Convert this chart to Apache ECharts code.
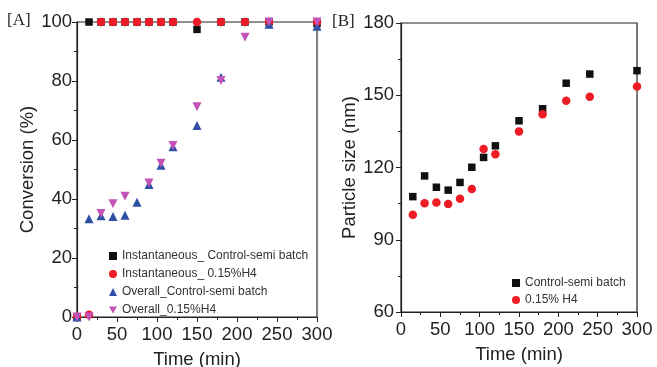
<!DOCTYPE html>
<html>
<head>
<meta charset="utf-8">
<script src="https://cdn.jsdelivr.net/npm/echarts@6/dist/echarts.min.js"></script>
<style>
  html, body { margin: 0; padding: 0; background: #fff; }
  #chart { width: 657px; height: 367px; }
</style>
</head>
<body>
<div id="chart"></div>
<script>
// Panel A: conversion vs time
const timeA = [0, 15, 30, 45, 60, 75, 90, 105, 120, 150, 180, 210, 240, 300];
const instControl = [0, 100, 100, 100, 100, 100, 100, 100, 100, 97.5, 100, 100, 100, 99.5];
const instH4Time = [0, 15, 30, 45, 60, 75, 90, 105, 120, 150, 180, 210, 240, 300];
const instH4 = [0, 0.8, 100, 100, 100, 100, 100, 100, 100, 100, 100, 100, 100, 100];
const overallControlTime = [0, 15, 30, 45, 60, 75, 90, 105, 120, 150, 180, 240, 300];
const overallControl = [0, 33.3, 34.3, 34.1, 34.5, 38.9, 44.9, 51.4, 57.7, 64.9, 81.3, 99.2, 98.6];
const overallH4Time = [0, 15, 30, 45, 60, 90, 105, 120, 150, 180, 210, 240, 300];
const overallH4 = [0, 0, 35.1, 38.4, 40.9, 45.4, 52.1, 58.1, 71.3, 80.2, 94.8, 100, 100];

// Panel B: particle size vs time
const timeB = [15, 30, 45, 60, 75, 90, 105, 120, 150, 180, 210, 240, 300];
const sizeControl = [107.9, 116.5, 111.8, 110.6, 113.8, 120.1, 124.2, 129.0, 139.4, 144.4, 155.0, 158.8, 160.2];
const sizeH4 = [100.4, 105.2, 105.5, 104.8, 107.0, 111.1, 127.7, 125.5, 135.0, 142.1, 147.7, 149.4, 153.6];

const namesA = ['Instantaneous_ Control-semi batch', 'Instantaneous_ 0.15%H4', 'Overall_Control-semi batch', 'Overall_0.15%H4'];
const namesB = ['Control-semi batch', '0.15% H4'];

const BLACK = '#111111', RED = '#ee1c25', BLUE = '#2e4fa3', PINK = '#c453b8';
const FONT = '"Liberation Sans", Arial, sans-serif';
const FS = 18.5;
const DOWN_TRIANGLE = 'path://M0,0 L10,0 L5,9 Z';

function pairs(xs, ys) { return xs.map((x, i) => [x, ys[i]]); }

function xAxisCfg(gridIndex) {
  return {
    type: 'value', gridIndex, min: 0, max: 300, interval: 50,
    name: 'Time (min)', nameLocation: 'middle', nameGap: 33,
    nameTextStyle: { fontFamily: FONT, fontSize: FS, color: '#222' },
    axisLine: { show: true, onZero: false, lineStyle: { color: '#222', width: 1.2 } },
    axisTick: { show: true, inside: false, length: 5, lineStyle: { color: '#222' } },
    minorTick: { show: true, splitNumber: 2, length: 3, lineStyle: { color: '#222' } },
    axisLabel: { fontFamily: FONT, fontSize: FS, color: '#222', margin: 8 },
    splitLine: { show: false }
  };
}
function yAxisCfg(gridIndex, min, max, interval, name, gap, margin) {
  return {
    type: 'value', gridIndex, min, max, interval,
    name, nameLocation: 'middle', nameGap: gap,
    nameTextStyle: { fontFamily: FONT, fontSize: FS, color: '#222' },
    axisLine: { show: true, onZero: false, lineStyle: { color: '#222', width: 1.2 } },
    axisTick: { show: true, inside: false, length: 5, lineStyle: { color: '#222' } },
    minorTick: { show: true, splitNumber: 2, length: 3, lineStyle: { color: '#222' } },
    axisLabel: { fontFamily: FONT, fontSize: FS, color: '#222', margin },
    splitLine: { show: false }
  };
}
// plain frame line on the right side of a panel
function rightFrame(gridIndex, min, max, color) {
  return {
    type: 'value', gridIndex, min, max, position: 'right',
    axisLine: { show: true, onZero: false, lineStyle: { color, width: 1.2 } },
    axisTick: { show: false }, axisLabel: { show: false }, splitLine: { show: false }
  };
}
function scatter(name, data, symbol, color, size, xi, yi, z) {
  return {
    name, type: 'scatter', xAxisIndex: xi, yAxisIndex: yi, data,
    symbol, symbolSize: size, clip: false, z,
    itemStyle: { color, opacity: 1 }
  };
}

const chart = echarts.init(document.getElementById('chart'), null, { renderer: 'canvas' });
chart.setOption({
  animation: false,
  backgroundColor: '#fff',
  grid: [
    { left: 77, top: 22, width: 240, height: 295, show: true, borderColor: '#222', borderWidth: 1.2,
      containLabel: false, outerBoundsMode: 'none' },
    { left: 401, top: 23, width: 236, height: 289, show: true, borderColor: '#222', borderWidth: 1.2,
      containLabel: false, outerBoundsMode: 'none' }
  ],
  xAxis: [xAxisCfg(0), xAxisCfg(1)],
  yAxis: [
    yAxisCfg(0, 0, 100, 20, 'Conversion (%)', 37, 5),
    yAxisCfg(1, 60, 180, 30, 'Particle size (nm)', 39, 7),
    rightFrame(0, 0, 100, '#8a8a8a')
  ],
  legend: [
    {
      data: [namesA[0], namesA[1], namesA[2], { name: namesA[3], icon: DOWN_TRIANGLE }],
      orient: 'vertical', left: 104, top: 245, itemGap: 6,
      itemWidth: 8, itemHeight: 8,
      textStyle: { fontFamily: FONT, fontSize: 12, color: '#333' }
    },
    {
      data: namesB, orient: 'vertical', left: 507, top: 272, itemGap: 5,
      itemWidth: 8, itemHeight: 8,
      textStyle: { fontFamily: FONT, fontSize: 12, color: '#333' }
    }
  ],
  graphic: [
    { type: 'text', left: 7, top: 12, style: { text: '[A]', font: '17px "Liberation Serif", "Times New Roman", serif', fill: '#222' } },
    { type: 'text', left: 332, top: 13, style: { text: '[B]', font: '17px "Liberation Serif", "Times New Roman", serif', fill: '#222' } }
  ],
  series: [
    scatter(namesA[0], pairs(timeA, instControl), 'rect', BLACK, 7.5, 0, 0, 2),
    scatter(namesA[1], pairs(instH4Time, instH4), 'circle', RED, 8.5, 0, 0, 3),
    scatter(namesA[2], pairs(overallControlTime, overallControl), 'triangle', BLUE, 9, 0, 0, 4),
    scatter(namesA[3], pairs(overallH4Time, overallH4), DOWN_TRIANGLE, PINK, 9, 0, 0, 5),
    scatter(namesB[0], pairs(timeB, sizeControl), 'rect', BLACK, 7.5, 1, 1, 2),
    scatter(namesB[1], pairs(timeB, sizeH4), 'circle', RED, 8.5, 1, 1, 3)
  ]
});
</script>
</body>
</html>
